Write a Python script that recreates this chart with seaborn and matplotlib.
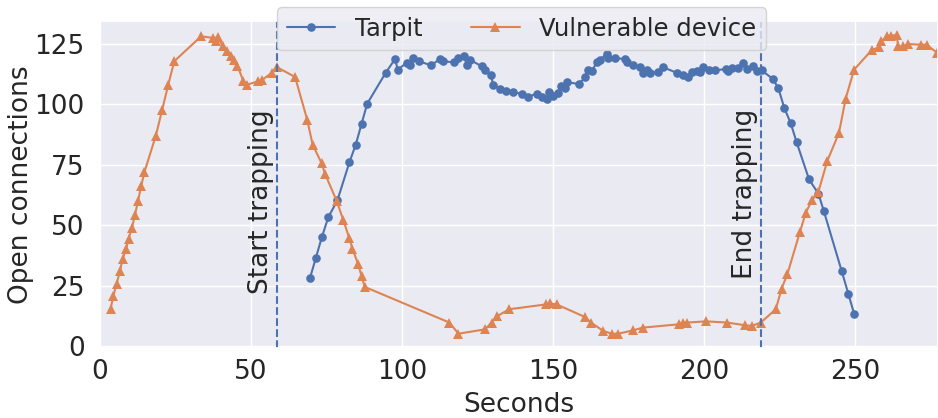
import numpy as np
import pandas as pd
import seaborn as sns
import matplotlib
matplotlib.use("Agg")
import matplotlib.pyplot as plt

# Tarpit: open connections over time
tarpit_t = [69.5, 71.5, 73.5, 75.6, 78.6, 82.6, 84.7, 86.6, 88.5, 94.6,
            97.7, 98.6, 101.5, 102.6, 103.7, 105.6, 109.6, 112.6, 113.7, 117.3,
            118.6, 120.4, 121.5, 122.5, 126.4, 127.5, 129.4, 130.2, 132.5, 134.4,
            136.7, 139.6, 141.8, 144.6, 146.3, 147.9, 148.8, 150.1, 151.8, 152.6,
            154.0, 154.7, 158.6, 160.6, 161.7, 162.8, 164.5, 165.6, 167.8, 168.3,
            170.5, 173.8, 174.4, 176.6, 178.8, 179.7, 181.0, 182.1, 184.8, 186.5,
            191.0, 193.1, 194.8, 195.9, 197.6, 198.7, 199.8, 201.8, 203.6, 207.3,
            208.1, 209.2, 211.4, 212.8, 214.1, 216.3, 217.6, 219.1, 222.7, 224.6,
            226.6, 228.7, 230.7, 234.8, 237.9, 239.7, 245.6, 247.8, 249.7]
tarpit_n = [28.0, 36.6, 45.2, 53.3, 60.2, 76.0, 83.3, 91.8, 100.2, 112.9,
            118.6, 114.2, 117.0, 116.3, 119.0, 117.7, 116.0, 118.6, 117.7, 117.2,
            119.0, 119.8, 116.3, 118.3, 115.6, 114.2, 112.2, 108.0, 106.3, 105.6,
            104.9, 104.3, 103.0, 104.3, 103.0, 102.1, 104.9, 103.5, 104.6, 107.3,
            106.7, 109.0, 108.3, 111.0, 114.2, 113.5, 117.2, 118.3, 120.8, 119.0,
            119.0, 118.6, 117.2, 116.3, 115.3, 112.9, 114.2, 112.9, 113.3, 115.2,
            112.9, 112.2, 111.2, 113.1, 113.5, 113.1, 115.3, 113.9, 113.9, 114.5,
            113.5, 114.9, 114.9, 117.0, 114.5, 115.9, 113.5, 113.9, 110.5, 106.7,
            98.4, 92.2, 84.2, 68.9, 63.0, 55.8, 31.1, 21.7, 13.5]

# Vulnerable device: open connections over time
device_t = [3.5, 4.4, 5.5, 6.6, 7.5, 8.6, 9.5, 10.6, 11.6, 12.6,
            13.6, 14.7, 18.5, 20.6, 22.6, 24.6, 33.5, 37.5, 38.4, 39.2,
            40.6, 42.2, 43.4, 44.4, 45.5, 47.5, 48.6, 52.4, 53.5, 56.9,
            58.5, 64.6, 68.6, 70.4, 73.4, 74.5, 78.4, 80.6, 82.5, 83.6,
            85.5, 86.6, 87.7, 115.7, 118.7, 127.5, 129.7, 131.6, 135.5, 147.7,
            149.0, 151.2, 160.6, 162.6, 166.7, 169.4, 171.6, 176.6, 179.7, 191.8,
            193.1, 194.5, 200.7, 207.7, 213.6, 215.8, 218.8, 223.8, 225.7, 227.6,
            231.8, 233.7, 235.7, 237.9, 240.8, 244.7, 246.9, 249.7, 255.5, 258.1,
            258.6, 260.7, 262.1, 263.8, 264.3, 266.0, 267.6, 272.0, 273.7, 277.3]
device_n = [15.3, 20.7, 25.8, 31.0, 36.2, 40.0, 44.5, 49.0, 54.4, 60.0,
            66.0, 71.9, 87.0, 97.7, 108.0, 117.7, 128.0, 127.3, 125.9, 127.7,
            123.8, 121.8, 119.7, 118.0, 115.9, 109.4, 108.0, 109.4, 109.8, 112.9,
            115.3, 111.2, 93.6, 83.3, 75.5, 71.3, 59.9, 52.0, 44.8, 40.3,
            33.8, 29.0, 24.5, 9.8, 5.2, 7.0, 9.8, 12.5, 15.3, 17.3,
            17.7, 17.3, 12.1, 9.8, 6.3, 5.2, 5.2, 6.6, 7.7, 9.1,
            9.8, 9.8, 10.3, 9.8, 8.7, 8.4, 9.8, 15.3, 23.8, 29.7,
            47.3, 55.1, 60.2, 63.8, 76.4, 88.1, 102.1, 114.2, 122.2, 123.6,
            125.9, 128.0, 128.2, 128.6, 123.8, 123.8, 124.8, 124.5, 124.5, 121.1]

events = ["Start trapping", "End trapping"]
event_t = [58.5, 218.8]

sns.set_theme(style="darkgrid")
plt.rcParams['font.family'] = ['DejaVu Sans']

fig = plt.figure(figsize=(9.38, 4.18), dpi=100)
ax = fig.add_axes([100 / 938, 1 - 348 / 418, 838 / 938, 327 / 418])

pal = sns.color_palette("deep")
sns.lineplot(x=tarpit_t, y=tarpit_n, ax=ax, color=pal[0], marker='o',
             markersize=6.2, markeredgewidth=0, linewidth=1.5, label="Tarpit")
sns.lineplot(x=device_t, y=device_n, ax=ax, color=pal[1], marker='^',
             markersize=7.2, markeredgewidth=0, linewidth=1.5,
             label="Vulnerable device")

for name, t in zip(events, event_t):
    ax.axvline(t, color=pal[0], linestyle='--', linewidth=1.5)
    ax.text(t - 0.8, 98, name, rotation=90, ha='right', va='top', fontsize=19)

ax.set_xlim(0, 277.5)
ax.set_ylim(-0.7, 134.3)
ax.set_xticks([0, 50, 100, 150, 200, 250])
ax.set_yticks([0, 25, 50, 75, 100, 125])
ax.tick_params(axis='x', labelsize=19, length=0, pad=8)
ax.tick_params(axis='y', labelsize=19, length=0, pad=11)
ax.set_xlabel("Seconds", fontsize=19, labelpad=5)
ax.set_ylabel("Open connections", fontsize=19, labelpad=0)

ax.legend(loc='upper center', bbox_to_anchor=(0.503, 1.08), ncol=2,
          fontsize=17.5)

fig.savefig("out.png", dpi=100)
